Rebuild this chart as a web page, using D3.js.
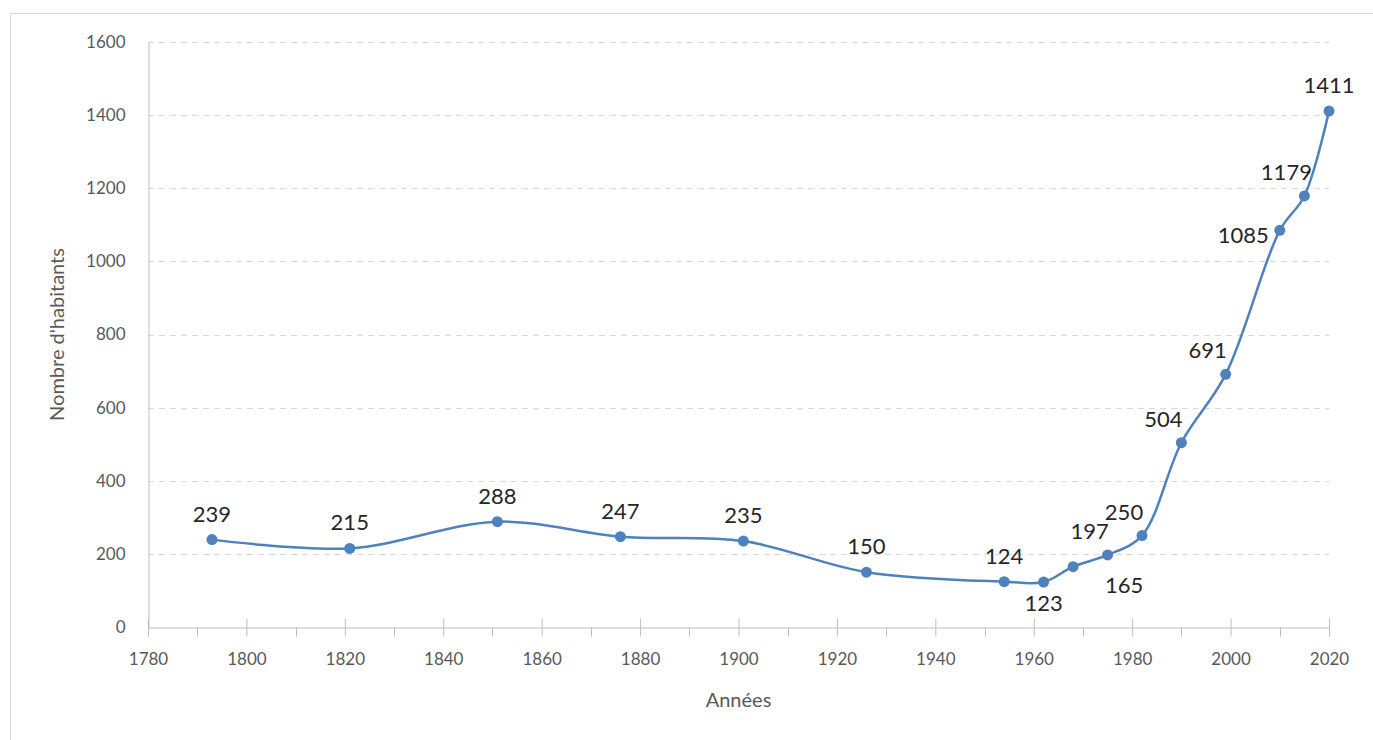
<!DOCTYPE html>
<html>
<head>
<meta charset="utf-8">
<script src="https://cdn.jsdelivr.net/npm/d3@7"></script>
<style>
  body { margin: 0; background: #fff; }
  svg { display: block; font-family: Lato, "Open Sans", sans-serif; }
</style>
</head>
<body>
<svg width="1373" height="740"></svg>
<script>
// Population data (years and inhabitants)
const years = [1793, 1821, 1851, 1876, 1901, 1926, 1954, 1962, 1968, 1975, 1982, 1990, 1999, 2010, 2015, 2020];
const inhabitants = [239, 215, 288, 247, 235, 150, 124, 123, 165, 197, 250, 504, 691, 1085, 1179, 1411];
// where each data label sits relative to its point
const labelPlaces = ['top', 'top', 'top', 'top', 'top', 'top', 'top', 'bottom', 'bottomright', 'topleft', 'topleft', 'topleft', 'topleft', 'left', 'topleft', 'top'];
const xTicks = [1780, 1800, 1820, 1840, 1860, 1880, 1900, 1920, 1940, 1960, 1980, 2000, 2020];
const yTicks = [0, 200, 400, 600, 800, 1000, 1200, 1400, 1600];

const data = years.map((y, i) => ({ year: y, value: inhabitants[i], place: labelPlaces[i] }));

const svg = d3.select('svg');
const plotLeft = 148;
const plotRight = 1329;
const plotTop = 42;
const plotBottom = 627;

// Outer chart border
svg.append('rect')
  .attr('x', 10.5).attr('y', 13.5)
  .attr('width', 1380).attr('height', 760)
  .attr('fill', 'none')
  .attr('stroke', '#d9d9d9');

const xScale = d3.scaleLinear().domain([1780, 2020]).range([plotLeft, plotRight]);
const yScale = d3.scaleLinear().domain([0, 1600]).range([plotBottom, plotTop]);

// Dashed gridlines
svg.append('g')
  .selectAll('line')
  .data(yTicks.filter((t) => t > 0))
  .enter()
  .append('line')
  .attr('x1', plotLeft).attr('x2', plotRight)
  .attr('y1', (d) => Math.round(yScale(d)) + 0.5)
  .attr('y2', (d) => Math.round(yScale(d)) + 0.5)
  .attr('stroke', '#d9d9d9')
  .attr('stroke-dasharray', '6,5');

// Y axis
const yAxis = svg.append('g')
  .attr('transform', `translate(${plotLeft + 0.5}, 0)`)
  .call(d3.axisLeft(yScale).tickValues(yTicks).tickFormat(d3.format('d')).tickSize(0).tickPadding(23));
yAxis.select('.domain').attr('stroke', '#bfbfbf');
yAxis.selectAll('text')
  .style('font-size', '17px')
  .attr('fill', '#595959')
  .attr('font-family', 'Lato, sans-serif');

// X axis: major ticks crossing the line, minor ticks outside
const xAxisG = svg.append('g').attr('transform', `translate(0, ${plotBottom + 0.5})`);
xAxisG.call(d3.axisBottom(xScale).tickValues(xTicks).tickFormat(d3.format('d')).tickSize(9).tickPadding(16));
xAxisG.select('.domain').attr('stroke', '#bfbfbf');
xAxisG.selectAll('.tick line').attr('stroke', '#bfbfbf').attr('y1', -9);
xAxisG.selectAll('text')
  .style('font-size', '17px')
  .attr('fill', '#595959')
  .attr('font-family', 'Lato, sans-serif');

const minorTicks = d3.range(1790, 2020, 20);
xAxisG.selectAll('.minor')
  .data(minorTicks)
  .enter()
  .append('line')
  .attr('class', 'minor')
  .attr('x1', (d) => Math.round(xScale(d)) + 0.5)
  .attr('x2', (d) => Math.round(xScale(d)) + 0.5)
  .attr('y1', 0).attr('y2', 9)
  .attr('stroke', '#bfbfbf');

// Axis titles
svg.append('text')
  .attr('x', (plotLeft + plotRight) / 2)
  .attr('y', 707)
  .attr('text-anchor', 'middle')
  .attr('fill', '#595959')
  .style('font-size', '20px')
  .text('Années');

svg.append('text')
  .attr('transform', 'rotate(-90)')
  .attr('x', -(plotTop + plotBottom) / 2)
  .attr('y', 64)
  .attr('text-anchor', 'middle')
  .attr('fill', '#595959')
  .style('font-size', '20px')
  .text("Nombre d'habitants");

// Smoothed line
const line = d3.line()
  .x((d) => xScale(d.year))
  .y((d) => yScale(d.value))
  .curve(d3.curveCatmullRom.alpha(0.5));

svg.append('path')
  .datum(data)
  .attr('d', line)
  .attr('fill', 'none')
  .attr('stroke', '#4f81bd')
  .attr('stroke-width', 2.5);

svg.append('g')
  .selectAll('circle')
  .data(data)
  .enter()
  .append('circle')
  .attr('cx', (d) => xScale(d.year))
  .attr('cy', (d) => yScale(d.value))
  .attr('r', 5.5)
  .attr('fill', '#4f81bd');

// Data labels
const offsets = {
  top: [0, -18, 'middle'],
  bottom: [0, 29, 'middle'],
  bottomright: [51, 26, 'middle'],
  topleft: [-18, -16, 'middle'],
  left: [-11, 13, 'end'],
};
svg.append('g')
  .selectAll('text')
  .data(data)
  .enter()
  .append('text')
  .attr('x', (d) => xScale(d.year) + offsets[d.place][0])
  .attr('y', (d) => yScale(d.value) + offsets[d.place][1])
  .attr('text-anchor', (d) => offsets[d.place][2])
  .attr('fill', '#262626')
  .style('font-size', '22px')
  .text((d) => d.value);
</script>
</body>
</html>
